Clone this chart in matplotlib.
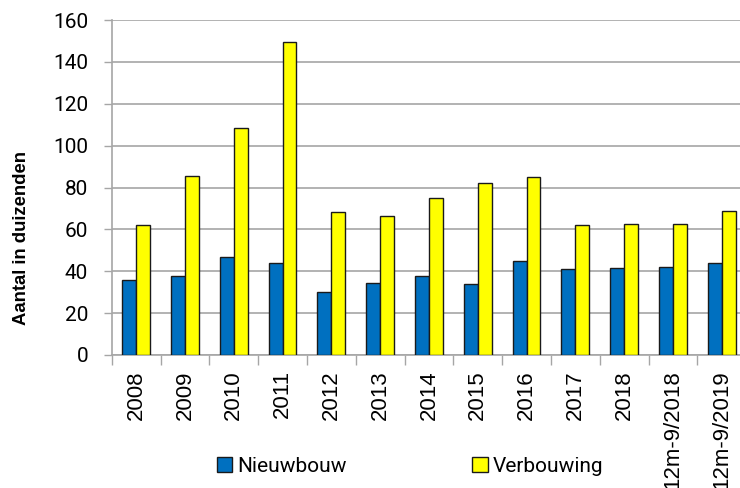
import matplotlib
matplotlib.use("Agg")
import matplotlib.pyplot as plt
import numpy as np

categories = ["2008", "2009", "2010", "2011", "2012", "2013", "2014", "2015",
              "2016", "2017", "2018", "12m-9/2018", "12m-9/2019"]
nieuwbouw = [36, 37.5, 47, 44, 30, 34.6, 37.8, 34, 45, 41, 41.6, 42, 44]
verbouwing = [62, 85.5, 108.3, 149.4, 68.2, 66.6, 75, 82, 85, 62, 62.4, 62.4, 68.6]
yticks = [0, 20, 40, 60, 80, 100, 120, 140, 160]

fig = plt.figure(figsize=(7.4, 4.88), dpi=100)
ax = fig.add_axes([111.7 / 740, 1 - 355 / 488, 634.4 / 740, 335 / 488])

x = np.arange(len(categories))
w = 0.285
grid_c = "#a6a6a6"
edge_c = "#1a1a1a"
ax.bar(x - w / 2, nieuwbouw, w, color="#0070C0", edgecolor=edge_c, linewidth=1, zorder=3, label="Nieuwbouw")
ax.bar(x + w / 2, verbouwing, w, color="#FFFF00", edgecolor=edge_c, linewidth=1, zorder=3, label="Verbouwing")

ax.set_xlim(-0.5, len(categories) - 0.5)
ax.set_ylim(0, 160)
ax.set_yticks(yticks)
ax.set_yticklabels([str(v) for v in yticks], fontfamily="Roboto", fontsize=15)
ax.yaxis.grid(True, color=grid_c, linewidth=1.2, zorder=0)
ax.set_axisbelow(True)

ax.set_xticks(x)
ax.set_xticklabels(categories, rotation=90, fontfamily="Liberation Sans", fontsize=16, va="top")
ax.set_xticks(np.arange(-0.5, len(categories), 1), minor=True)
ax.tick_params(axis="x", which="major", length=0, pad=11)
ax.tick_params(axis="x", which="minor", length=7, color=grid_c, width=1)
ax.tick_params(axis="y", length=6, color=grid_c, width=1, pad=11)

for s in ["top", "right"]:
    ax.spines[s].set_visible(False)
for s in ["left", "bottom"]:
    ax.spines[s].set_color(grid_c)
    ax.spines[s].set_linewidth(1.2)

fig.text(22 / 740, 1 - 238 / 488, "Aantal in duizenden", rotation=90, ha="center", va="center",
         fontfamily="Liberation Sans", fontweight="bold", fontsize=13.3)

leg = fig.legend(loc="center", bbox_to_anchor=(410 / 740, 1 - 466 / 488), ncol=2, frameon=False,
                 prop={"family": "Roboto", "size": 15}, handlelength=0.75, handleheight=0.75,
                 handletextpad=0.25, columnspacing=6.0, borderaxespad=0)

fig.savefig("out.png", dpi=100)
